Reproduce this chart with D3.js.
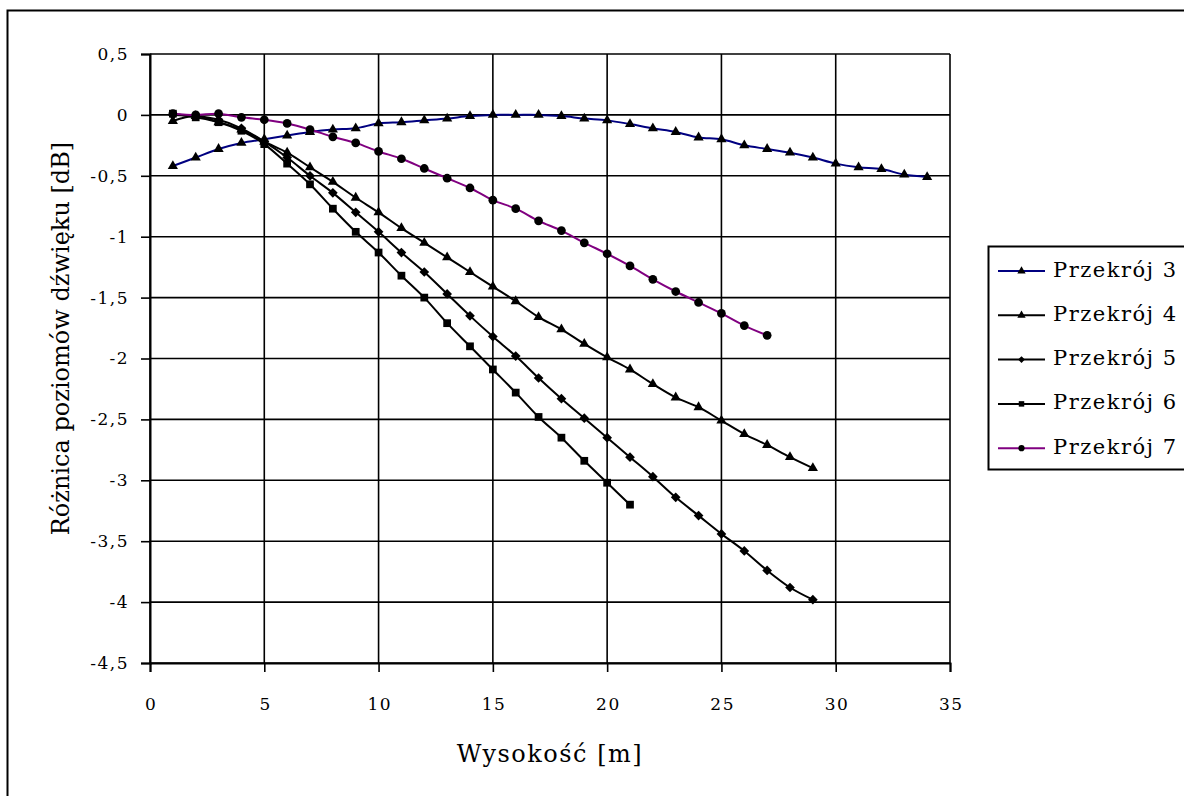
<!DOCTYPE html>
<html>
<head>
<meta charset="utf-8">
<script src="https://cdn.jsdelivr.net/npm/d3@7"></script>
<style>
  body { margin: 0; background: #fff; }
  text { font-family: "DejaVu Serif", "Liberation Serif", serif; fill: #000; }
</style>
</head>
<body>
<div id="chart"></div>
<script>
// =======================
// LINE CHART
// Różnica poziomów dźwięku vs wysokość (przekroje 3-7)
// =======================

// Data
const heights = [1, 2, 3, 4, 5, 6, 7, 8, 9, 10, 11, 12, 13, 14, 15, 16, 17,
  18, 19, 20, 21, 22, 23, 24, 25, 26, 27, 28, 29, 30, 31, 32, 33, 34];

const przekroj3 = [-0.42, -0.35, -0.28, -0.23, -0.20, -0.17, -0.14, -0.12, -0.11, -0.07,
  -0.06, -0.045, -0.03, -0.01, 0, 0, 0, -0.01, -0.03, -0.045,
  -0.075, -0.11, -0.14, -0.185, -0.20, -0.25, -0.28, -0.31, -0.35, -0.40,
  -0.43, -0.445, -0.49, -0.51];
const przekroj4 = [-0.05, -0.01, -0.06, -0.12, -0.22, -0.31, -0.43, -0.55, -0.68, -0.80,
  -0.93, -1.05, -1.17, -1.29, -1.41, -1.53, -1.66, -1.76, -1.88, -1.99,
  -2.09, -2.21, -2.32, -2.40, -2.51, -2.62, -2.71, -2.81, -2.90];
const przekroj5 = [0.0, -0.01, -0.04, -0.11, -0.22, -0.35, -0.50, -0.64, -0.80, -0.96,
  -1.13, -1.29, -1.47, -1.65, -1.82, -1.98, -2.16, -2.33, -2.49, -2.65,
  -2.81, -2.97, -3.14, -3.29, -3.44, -3.58, -3.74, -3.88, -3.98];
const przekroj6 = [0.01, -0.02, -0.06, -0.13, -0.24, -0.40, -0.57, -0.77, -0.96, -1.13,
  -1.32, -1.50, -1.71, -1.90, -2.09, -2.28, -2.48, -2.65, -2.84, -3.02,
  -3.20];
const przekroj7 = [0.01, 0.0, 0.01, -0.02, -0.04, -0.07, -0.12, -0.18, -0.23, -0.30,
  -0.36, -0.44, -0.52, -0.60, -0.70, -0.77, -0.87, -0.95, -1.05, -1.14,
  -1.24, -1.35, -1.45, -1.54, -1.63, -1.73, -1.81];

const seriesNames = ["Przekrój 3", "Przekrój 4", "Przekrój 5", "Przekrój 6", "Przekrój 7"];
const seriesValues = [przekroj3, przekroj4, przekroj5, przekroj6, przekroj7];
const seriesColors = ["#000080", "#000000", "#000000", "#000000", "#800080"];
const seriesSymbols = [d3.symbolTriangle, d3.symbolTriangle, d3.symbolDiamond2, d3.symbolSquare, d3.symbolCircle];

const xTicks = [0, 5, 10, 15, 20, 25, 30, 35];
const yTicks = [0.5, 0, -0.5, -1, -1.5, -2, -2.5, -3, -3.5, -4, -4.5];

// Layout
const width = 1184, height = 796;
const plot = { left: 150, right: 950, top: 54, bottom: 663 };

const svg = d3.select("#chart")
  .append("svg")
    .attr("width", width)
    .attr("height", height);

// outer frame
svg.append("rect")
  .attr("x", 7.5).attr("y", 10.5)
  .attr("width", width).attr("height", height)
  .attr("fill", "none")
  .attr("stroke", "#000")
  .attr("stroke-width", 2);

// Scales
const x = d3.scaleLinear().domain([0, 35]).range([plot.left, plot.right]);
const y = d3.scaleLinear().domain([-4.5, 0.5]).range([plot.bottom, plot.top]);

const fmt = v => d3.format("")(v).replace(".", ",").replace("−", "-");

// Grid
svg.append("g")
  .selectAll("line")
  .data(xTicks)
  .enter()
  .append("line")
    .attr("x1", d => x(d)).attr("x2", d => x(d))
    .attr("y1", plot.top).attr("y2", plot.bottom)
    .attr("stroke", "#000").attr("stroke-width", 1.6);

svg.append("g")
  .selectAll("line")
  .data(yTicks)
  .enter()
  .append("line")
    .attr("x1", plot.left).attr("x2", plot.right)
    .attr("y1", d => y(d)).attr("y2", d => y(d))
    .attr("stroke", "#000").attr("stroke-width", 1.6);

// Axes
const xAxis = svg.append("g")
  .attr("transform", `translate(0,${plot.bottom})`)
  .call(d3.axisBottom(x).tickValues(xTicks).tickSize(9).tickPadding(26).tickFormat(fmt));

const yAxis = svg.append("g")
  .attr("transform", `translate(${plot.left},0)`)
  .call(d3.axisLeft(y).tickValues(yTicks).tickSize(9).tickPadding(12).tickFormat(fmt));

[xAxis, yAxis].forEach(a => {
  a.select(".domain").attr("stroke", "#000").attr("stroke-width", 2);
  a.selectAll(".tick line").attr("stroke", "#000").attr("stroke-width", 1.6);
  a.selectAll("text")
    .style("font-family", '"DejaVu Serif", serif')
    .style("font-size", "17px")
    .style("letter-spacing", "1.5px")
    .attr("fill", "#000");
});
// letter-spacing adds a trailing gap; nudge x labels back to centre
xAxis.selectAll("text").attr("dx", "0.75px");

// Axis titles
svg.append("text")
  .attr("x", (plot.left + plot.right) / 2)
  .attr("y", 755)
  .attr("text-anchor", "middle")
  .attr("dominant-baseline", "middle")
  .style("font-size", "24px")
  .style("letter-spacing", "1.5px")
  .text("Wysokość [m]");

svg.append("text")
  .attr("transform", `translate(62,${(plot.top + plot.bottom) / 2 - 20}) rotate(-90)`)
  .attr("text-anchor", "middle")
  .attr("dominant-baseline", "middle")
  .style("font-size", "24px")
  .text("Różnica poziomów dźwięku [dB]");

// Lines
const line = d3.line()
  .x(d => x(d[0]))
  .y(d => y(d[1]))
  .curve(d3.curveCardinal.tension(0));

seriesValues.forEach((vals, i) => {
  const pts = vals.map((v, j) => [heights[j], v]);
  const g = svg.append("g");

  g.append("path")
    .datum(pts)
    .attr("d", line)
    .attr("fill", "none")
    .attr("stroke", seriesColors[i])
    .attr("stroke-width", 2);

  const sym = d3.symbol().type(seriesSymbols[i])
    .size(seriesSymbols[i] === d3.symbolCircle ? 60 : seriesSymbols[i] === d3.symbolTriangle ? 45 : 60);

  g.selectAll("path.marker")
    .data(pts)
    .enter()
    .append("path")
      .attr("class", "marker")
      .attr("d", sym)
      .attr("transform", d => `translate(${x(d[0])},${y(d[1])})`)
      .attr("fill", "#000");
});

// Legend
const legend = svg.append("g");
legend.append("rect")
  .attr("x", 988.5).attr("y", 246.5)
  .attr("width", 260).attr("height", 223)
  .attr("fill", "#fff")
  .attr("stroke", "#000")
  .attr("stroke-width", 2);

const rows = legend.selectAll("g.row")
  .data(seriesNames)
  .enter()
  .append("g")
    .attr("class", "row")
    .attr("transform", (d, i) => `translate(0,${271 + i * 44.3})`);

rows.append("line")
  .attr("x1", 998).attr("x2", 1045)
  .attr("stroke", (d, i) => seriesColors[i])
  .attr("stroke-width", 2);

rows.append("path")
  .attr("d", (d, i) => d3.symbol().type(seriesSymbols[i]).size(30)())
  .attr("transform", "translate(1021.5,0)")
  .attr("fill", "#000");

rows.append("text")
  .attr("x", 1053)
  .attr("dominant-baseline", "middle")
  .style("font-size", "21px")
  .style("letter-spacing", "1.5px")
  .text(d => d);
</script>
</body>
</html>
